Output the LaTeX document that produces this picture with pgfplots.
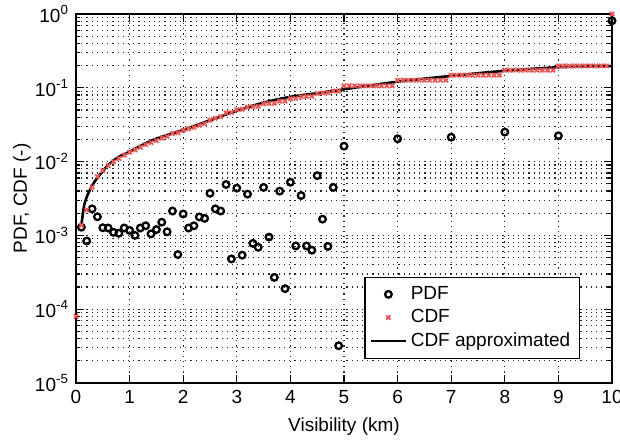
\documentclass[border=0pt]{standalone}
\usepackage{pgfplots}
\pgfplotsset{compat=1.18}
\usepackage{fontspec}
\setmainfont{Liberation Sans}
\definecolor{cdfred}{RGB}{238,85,85}
\newcommand{\fs}{\fontsize{9.5pt}{11pt}\selectfont}
\begin{document}
\begin{tikzpicture}
\begin{axis}[
  name=main,
  scale only axis,
  width=268pt, height=184.5pt,
  xmin=0, xmax=10,
  ymode=log, ymin=1e-5, ymax=1,
  xtick={0,1,2,3,4,5,6,7,8,9,10},
  ytick={1e-5,1e-4,1e-3,1e-2,1e-1,1},
  yticklabels={10\textsuperscript{-5},10\textsuperscript{-4},10\textsuperscript{-3},10\textsuperscript{-2},10\textsuperscript{-1},10\textsuperscript{0}},
  xticklabel style={/pgf/number format/assume math mode=true},
  tick label style={font=\fs},
  label style={font=\fs},
  xlabel={Visibility (km)},
  ylabel={PDF, CDF (-)},
  xlabel style={at={(axis description cs:0.5,-0.119)}, anchor=center},
  ylabel style={at={(axis description cs:-0.1007,0.5)}, anchor=center},
  tick align=inside,
  tick pos=both,
  major tick length=4pt,
  minor tick length=2pt,
  axis line style={line width=0.75pt},
  every tick/.style={black, line width=0.6pt},
  xmajorgrids=true, ymajorgrids=true, yminorgrids=true,
  major grid style={black!85, line width=0.6pt, dash pattern=on 0.6pt off 2pt},
  minor grid style={black!85, line width=0.6pt, dash pattern=on 0.6pt off 2pt},
  legend style={at={(0.940,0.065)}, anchor=south east, font=\fs, draw=black, line width=0.6pt, inner sep=2.5pt, row sep=-0.5pt},
  legend cell align=left,
]
\addplot[only marks, mark=o, mark size=1.65pt, mark options={line width=1.15pt, black}] coordinates {
(0.1,0.00129) (0.2,0.00084) (0.3,0.00229) (0.4,0.00179) (0.5,0.00127)
(0.6,0.00126) (0.7,0.00110) (0.8,0.00107) (0.9,0.00126) (1.0,0.00117)
(1.1,0.00100) (1.2,0.00126) (1.3,0.00135) (1.4,0.00105) (1.5,0.00120)
(1.6,0.00151) (1.7,0.00112) (1.8,0.00214) (1.9,0.00055) (2.0,0.00195)
(2.1,0.00126) (2.2,0.00135) (2.3,0.00178) (2.4,0.00170) (2.5,0.00372)
(2.6,0.00229) (2.7,0.00214) (2.8,0.00490) (2.9,0.00048) (3.0,0.00437)
(3.1,0.00054) (3.2,0.00363) (3.3,0.00078) (3.4,0.00069) (3.5,0.00447)
(3.6,0.00095) (3.7,0.00027) (3.8,0.00398) (3.9,0.00019) (4.0,0.00525)
(4.1,0.00072) (4.2,0.00347) (4.3,0.00072) (4.4,0.00063) (4.5,0.00646)
(4.6,0.00166) (4.7,0.00071) (4.8,0.00447) (4.9,0.000032) (5.0,0.0162)
(6.0,0.0204) (7.0,0.0214) (8.0,0.0251) (9.0,0.0224) (10.0,0.81)
};
\addlegendentry{PDF}
\addplot[only marks, mark=x, mark size=1.5pt, mark options={line width=0.9pt, cdfred}] coordinates {
(0.0,0.00008) (0.1,0.00137) (0.2,0.00221) (0.3,0.00450) (0.4,0.00629)
(0.5,0.00756) (0.6,0.00882) (0.7,0.00992) (0.8,0.01099) (0.9,0.01225)
(1.0,0.01342) (1.1,0.01442) (1.2,0.01568) (1.3,0.01703) (1.4,0.01808)
(1.5,0.01928) (1.6,0.02079) (1.7,0.02191) (1.8,0.02405) (1.9,0.02460)
(2.0,0.02655) (2.1,0.02781) (2.2,0.02916) (2.3,0.03094) (2.4,0.03264)
(2.5,0.03636) (2.6,0.03865) (2.7,0.04079) (2.8,0.04569) (2.9,0.04617)
(3.0,0.05054) (3.1,0.05108) (3.2,0.05471) (3.3,0.05549) (3.4,0.05618)
(3.5,0.06065) (3.6,0.06160) (3.7,0.06187) (3.8,0.06585) (3.9,0.06604)
(4.0,0.07129) (4.1,0.07201) (4.2,0.07548) (4.3,0.07620) (4.4,0.07683)
(4.5,0.08329) (4.6,0.08495) (4.7,0.08566) (4.8,0.09013) (4.9,0.09016)
(5.0,0.10636) (5.1,0.10636) (5.2,0.10636) (5.3,0.10636) (5.4,0.10636)
(5.5,0.10636) (5.6,0.10636) (5.7,0.10636) (5.8,0.10636) (5.9,0.10636)
(6.0,0.1268) (6.1,0.1268) (6.2,0.1268) (6.3,0.1268) (6.4,0.1268)
(6.5,0.1268) (6.6,0.1268) (6.7,0.1268) (6.8,0.1268) (6.9,0.1268)
(7.0,0.1482) (7.1,0.1482) (7.2,0.1482) (7.3,0.1482) (7.4,0.1482)
(7.5,0.1482) (7.6,0.1482) (7.7,0.1482) (7.8,0.1482) (7.9,0.1482)
(8.0,0.1733) (8.1,0.1733) (8.2,0.1733) (8.3,0.1733) (8.4,0.1733)
(8.5,0.1733) (8.6,0.1733) (8.7,0.1733) (8.8,0.1733) (8.9,0.1733)
(9.0,0.198) (9.1,0.198) (9.2,0.198) (9.3,0.198) (9.4,0.198)
(9.5,0.198) (9.6,0.198) (9.7,0.198) (9.8,0.198) (9.9,0.198)
(10.0,1.0)
};
\addlegendentry{CDF}
\addplot[black, line width=1.3pt, smooth, tension=0.5] coordinates {
(0.1,0.00137) (0.15,0.0025) (0.2,0.0033) (0.25,0.0040) (0.3,0.0047)
(0.4,0.0061) (0.5,0.0074) (0.6,0.0090) (0.8,0.0116) (1.0,0.0136)
(1.25,0.0170) (1.5,0.0205) (2.0,0.0269) (2.5,0.0363) (3.0,0.0490)
(3.5,0.0630) (4.0,0.0755) (4.5,0.0845) (5.0,0.0955) (6.0,0.121)
(7.0,0.145) (8.0,0.170) (9.0,0.190) (10.0,0.197)
};
\addlegendentry{CDF approximated}
\end{axis}
\pgfresetboundingbox
\path ([shift={(-38pt,-28.5pt)}]main.south west) rectangle ([shift={(4pt,7pt)}]main.north east);
\end{tikzpicture}
\end{document}
